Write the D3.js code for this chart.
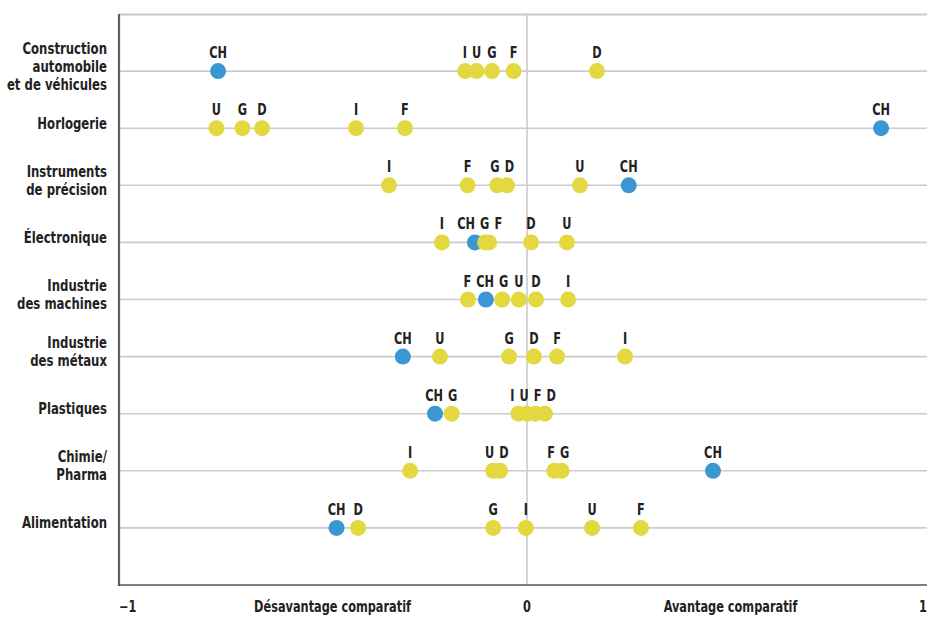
<!DOCTYPE html>
<html>
<head>
<meta charset="utf-8">
<script src="https://cdn.jsdelivr.net/npm/d3@7"></script>
<style>
  html, body { margin: 0; padding: 0; background: #fff; }
  svg { display: block; }
  text { font-family: "DejaVu Sans Condensed", "DejaVu Sans", sans-serif; font-weight: bold; fill: #222; }
</style>
</head>
<body>
<svg id="chart" width="927" height="617"></svg>
<script>
// ---- Data ----
const categories = [
  "Construction\nautomobile\net de véhicules",
  "Horlogerie",
  "Instruments\nde précision",
  "Électronique",
  "Industrie\ndes machines",
  "Industrie\ndes métaux",
  "Plastiques",
  "Chimie/\nPharma",
  "Alimentation"
];
const countries = ["CH", "D", "F", "I", "U", "G"];
// values per category (same order as `categories`)
const valuesCH = [-0.759, 0.870, 0.250, -0.128, -0.101, -0.305, -0.226, 0.457, -0.468];
const valuesD  = [ 0.172, -0.651, -0.049, 0.010, 0.022, 0.017, 0.044, -0.066, -0.415];
const valuesF  = [-0.033, -0.300, -0.146, -0.093, -0.145, 0.074, 0.020, 0.067, 0.280];
const valuesI  = [-0.152, -0.420, -0.339, -0.209, 0.101, 0.241, -0.021, -0.287, -0.003];
const valuesU  = [-0.124, -0.763, 0.130, 0.098, -0.020, -0.214, 0.000, -0.083, 0.160];
const valuesG  = [-0.086, -0.699, -0.073, -0.103, -0.061, -0.044, -0.185, 0.085, -0.083];
const axisTicks = [
  { v: -1, label: "\u22121" },
  { v: -0.5, label: "Désavantage comparatif" },
  { v: 0, label: "0" },
  { v: 0.5, label: "Avantage comparatif" },
  { v: 1, label: "1" }
];

const seriesValues = { CH: valuesCH, D: valuesD, F: valuesF, I: valuesI, U: valuesU, G: valuesG };

// ---- Layout ----
const svg = d3.select("#chart");
const pLeft = 119, pRight = 927, pTop = 14, pBottom = 585;
const SX = 0.84; // horizontal condensing of text

const x = d3.scaleLinear().domain([-1, 1]).range([120, 934]);
const y = d3.scalePoint().domain(categories).range([pTop, pBottom]).padding(1);

const colorBlue = "#3a97d1", colorYellow = "#e3d840";

function ctext(parent, px, py, str, size, anchor) {
  const t = parent.append("text")
    .attr("transform", `translate(${px},${py}) scale(${SX},1)`)
    .attr("x", 0).attr("y", 0)
    .attr("text-anchor", anchor).attr("font-size", size).text(str);
  return t;
}

// horizontal gridlines
svg.append("g").selectAll("line").data(categories).join("line")
  .attr("x1", pLeft).attr("x2", pRight)
  .attr("y1", d => y(d)).attr("y2", d => y(d))
  .attr("stroke", "#cbcbcb").attr("stroke-width", 1.6);

// top line
svg.append("line").attr("x1", pLeft).attr("x2", pRight).attr("y1", pTop + 0.5).attr("y2", pTop + 0.5)
  .attr("stroke", "#c8c8c8").attr("stroke-width", 2);

// zero line
svg.append("line").attr("x1", x(0)).attr("x2", x(0)).attr("y1", pTop).attr("y2", pBottom)
  .attr("stroke", "#cbcbcb").attr("stroke-width", 1.6);

// axes
svg.append("line").attr("x1", pLeft).attr("x2", pLeft).attr("y1", pTop).attr("y2", pBottom + 1)
  .attr("stroke", "#5e5e5e").attr("stroke-width", 2.2);
svg.append("line").attr("x1", pLeft - 1).attr("x2", pRight).attr("y1", pBottom).attr("y2", pBottom)
  .attr("stroke", "#555").attr("stroke-width", 1.6);

// category labels
const catG = svg.append("g");
categories.forEach(c => {
  const lines = c.split("\n");
  const n = lines.length;
  lines.forEach((ln, k) => {
    ctext(catG, 107, y(c) + 0.5 + (k - (n - 1) / 2) * 18, ln, 15.5, "end");
  });
});

// bottom tick labels
const tickG = svg.append("g");
axisTicks.forEach(tk => {
  let anchor = "middle", px = x(tk.v);
  if (tk.v === -1) { anchor = "start"; px = x(-1) - 1; }
  if (tk.v === 1) { anchor = "end"; px = pRight; }
  if (tk.v === -0.5) px = x(-0.5) + 9;
  ctext(tickG, px, 612, tk.label, 15, anchor);
});

// dots + labels
const dotG = svg.append("g");
const labG = svg.append("g");
categories.forEach((c, i) => {
  const pts = countries.map(k => ({ k, v: seriesValues[k][i] }))
    .sort((a, b) => a.v - b.v);
  dotG.selectAll(null).data(pts).join("circle")
    .attr("cx", d => x(d.v)).attr("cy", y(c)).attr("r", 8)
    .attr("fill", d => d.k === "CH" ? colorBlue : colorYellow);

  // labels with simple collision avoidance
  const yy = y(c) - 13;
  const texts = pts.map(p => {
    const t = ctext(labG, x(p.v), yy, p.k, 15, "middle");
    return { t, pos: x(p.v), w: t.node().getComputedTextLength() * SX };
  });
  const gap = 5;
  for (let iter = 0; iter < 80; iter++) {
    for (let j = 1; j < texts.length; j++) {
      const a = texts[j - 1], b = texts[j];
      const need = (a.w + b.w) / 2 + gap;
      const d = b.pos - a.pos;
      if (d < need) {
        const o = (need - d) / 2;
        a.pos -= o; b.pos += o;
      }
    }
  }
  texts.forEach(o => o.t.attr("transform", `translate(${o.pos},${yy}) scale(${SX},1)`));
});
</script>
</body>
</html>
